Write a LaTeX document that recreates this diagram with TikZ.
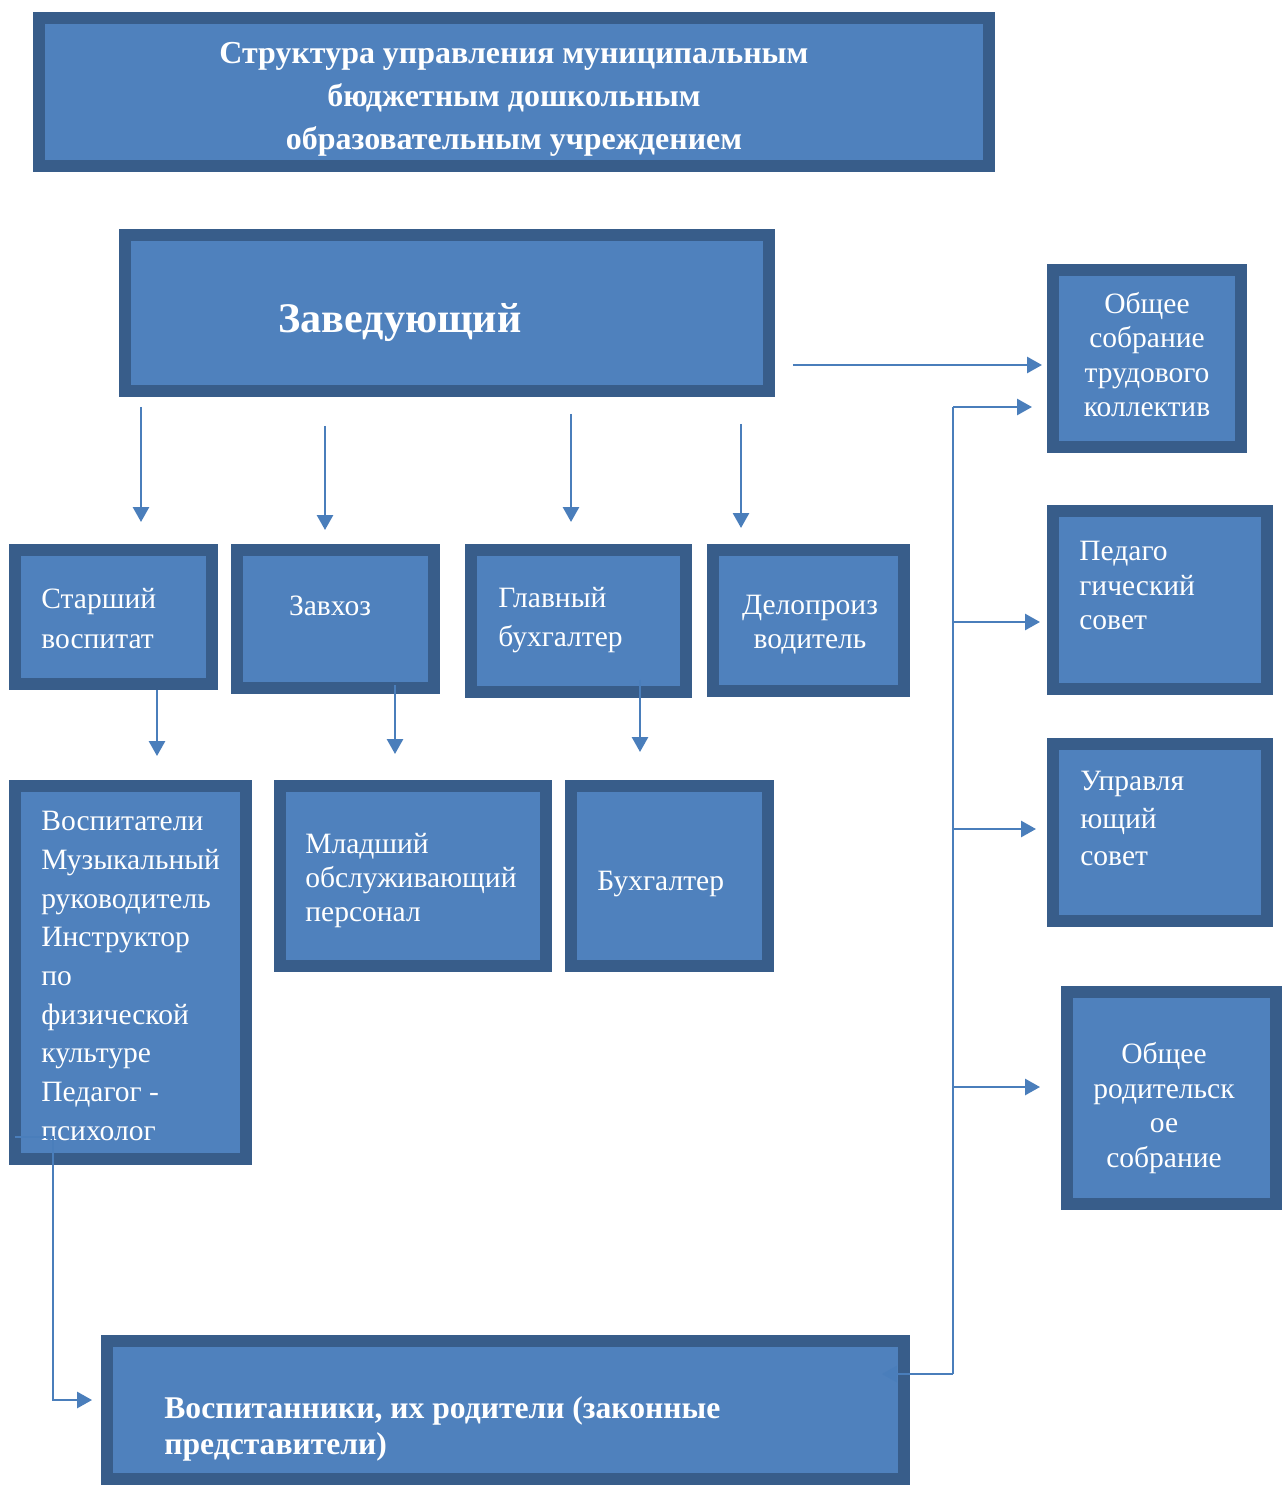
\documentclass[tikz,border=0pt]{standalone}
\usepackage{fontspec}
\setmainfont{Liberation Serif}
\usetikzlibrary{arrows.meta, calc}
\definecolor{boxfill}{HTML}{4F81BD}
\definecolor{boxline}{HTML}{385D8A}
\definecolor{linkblue}{HTML}{4A7EBB}

\begin{document}
\begin{tikzpicture}[
      x=0.02cm, y=-0.02cm,
      >={Triangle[length=0.3cm,width=0.32cm]},
      box/.style={draw=boxline,line width=0.24cm,fill=boxfill,inner sep=0,outer sep=0.12cm},
      main text/.style={text=white,inner sep=0,font=\fontsize{16.8}{21}\selectfont},
      left text/.style={main text,anchor=west,align=left},
      mid text/.style={main text,align=center},
      head text/.style={text=white,inner sep=0,align=center},
      link/.style={linkblue,line width=0.055cm},
      arrow/.style={link,->}
      ]
      \useasboundingbox (0,0) rectangle (1282,1486);
      % nodes
      % title
      \node [box,minimum width=19cm,minimum height=2.96cm] (title) at (514,92) {};
      \node [head text,font=\bfseries\fontsize{18.2}{24.5}\selectfont] (title text) at (514,99)
        {Структура управления муниципальным\\бюджетным дошкольным\\образовательным учреждением};
      % head
      \node [box,minimum width=12.88cm,minimum height=3.12cm] (zav) at (447,313) {};
      \node [head text,font=\bfseries\fontsize{24}{28}\selectfont] (zav text) at (400,323) {Заведующий};
      % second row
      \node [box,minimum width=3.94cm,minimum height=2.68cm] (star) at (113.5,617) {};
      \node [left text,font=\fontsize{16.8}{22.8}\selectfont] (star text) at (41,619) {Старший\\воспитат};
      \node [box,minimum width=3.94cm,minimum height=2.76cm] (zavhoz) at (335.5,619) {};
      \node [mid text] (zavhoz text) at (330,606) {Завхоз};
      \node [box,minimum width=4.3cm,minimum height=2.84cm] (glbuh) at (578.5,621) {};
      \node [left text,font=\fontsize{16.8}{22.2}\selectfont] (glbuh text) at (498,620.5) {Главный\\бухгалтер};
      \node [box,minimum width=3.82cm,minimum height=2.82cm] (delo) at (808.5,620.5) {};
      \node [mid text,font=\fontsize{16.8}{19.4}\selectfont] (delo text) at (810,625) {Делопроиз\\водитель};
      % third row
      \node [box,minimum width=4.62cm,minimum height=7.46cm] (vosp) at (130.5,972.5) {};
      \node [left text,font=\fontsize{16.8}{22}\selectfont] (vosp text) at (41,976)
        {Воспитатели\\Музыкальный\\руководитель\\Инструктор\\по\\физической\\культуре\\Педагог -\\психолог};
      \node [box,minimum width=5.32cm,minimum height=3.6cm] (mlad) at (413,876) {};
      \node [left text,font=\fontsize{16.8}{19.6}\selectfont] (mlad text) at (305,880.5) {Младший\\обслуживающий\\персонал};
      \node [box,minimum width=3.94cm,minimum height=3.6cm] (buh) at (669.5,876) {};
      \node [left text] (buh text) at (597,884) {Бухгалтер};
      % bottom
      \node [box,minimum width=15.94cm,minimum height=2.76cm] (pupils) at (505.5,1410) {};
      \node [head text,anchor=west,align=left,font=\bfseries\fontsize{18}{20.5}\selectfont] (pupils text) at (164,1429)
        {Воспитанники, их родители (законные\\представители)};
      % councils
      \node [box,minimum width=3.76cm,minimum height=3.54cm] (staff) at (1147,358.5) {};
      \node [mid text,font=\fontsize{16.8}{19.5}\selectfont] (staff text) at (1147,354.5) {Общее\\собрание\\трудового\\коллектив};
      \node [box,minimum width=4.28cm,minimum height=3.56cm] (ped) at (1160,600) {};
      \node [left text,font=\fontsize{16.8}{19.4}\selectfont] (ped text) at (1079,585.5) {Педаго\\гический\\совет};
      \node [box,minimum width=4.28cm,minimum height=3.54cm] (board) at (1160,832.5) {};
      \node [left text,font=\fontsize{16.8}{21.3}\selectfont] (board text) at (1080,818.5) {Управля\\ющий\\совет};
      \node [box,minimum width=4.18cm,minimum height=4.24cm] (parents) at (1171.5,1098) {};
      \node [mid text,font=\fontsize{16.8}{19.7}\selectfont] (parents text) at (1164,1108) {Общее\\родительск\\ое\\собрание};
      % arcs
      % head - staff meeting
      \draw [arrow,shorten <=0.36cm,shorten >=0.1cm] (zav.east |- 0,365) -- (staff.west |- 0,365);
      % head - second row
      \foreach \x/\n/\s/\e in {141/star/0.2/0.44, 325/zavhoz/0.58/0.28, 571/glbuh/0.34/0.44, 741/delo/0.54/0.32} {
          \draw [arrow,shorten <=\s cm,shorten >=\e cm] (zav.south -| \x,0) -- (\n.north -| \x,0);
      }
      % second row - third row
      \draw [arrow,shorten >=0.48cm] (star.south -| 157,0) -- (vosp.north -| 157,0);
      \draw [arrow,shorten <=-0.18cm,shorten >=0.52cm] (zavhoz.south -| 395,0) -- (mlad.north -| 395,0);
      \draw [arrow,shorten <=-0.36cm,shorten >=0.56cm] (glbuh.south -| 640,0) -- (buh.north -| 640,0);
      % staff - pupils
      \draw [arrow,shorten <=0.12cm,shorten >=0.18cm] (vosp.west |- 0,1137) -- ++(44,0) |- (pupils.west |- 0,1400);
      % councils trunk
      \coordinate (trunk top) at (953,407);
      \coordinate (trunk bottom) at (953,1374);
      \draw [link] (trunk top) -- (trunk bottom);
      \draw [arrow,shorten >=0.3cm] (trunk top) -- (staff.west |- trunk top);
      \draw [arrow,shorten >=0.14cm] (trunk top |- 0,622) -- (ped.west |- 0,622);
      \draw [arrow,shorten >=0.22cm] (trunk top |- 0,829) -- (board.west |- 0,829);
      \draw [arrow,shorten >=0.42cm] (trunk top |- 0,1087) -- (parents.west |- 0,1087);
      \draw [arrow,shorten >=-0.56cm] (trunk bottom) -- (pupils.east |- trunk bottom);
    \end{tikzpicture}
\end{document}
